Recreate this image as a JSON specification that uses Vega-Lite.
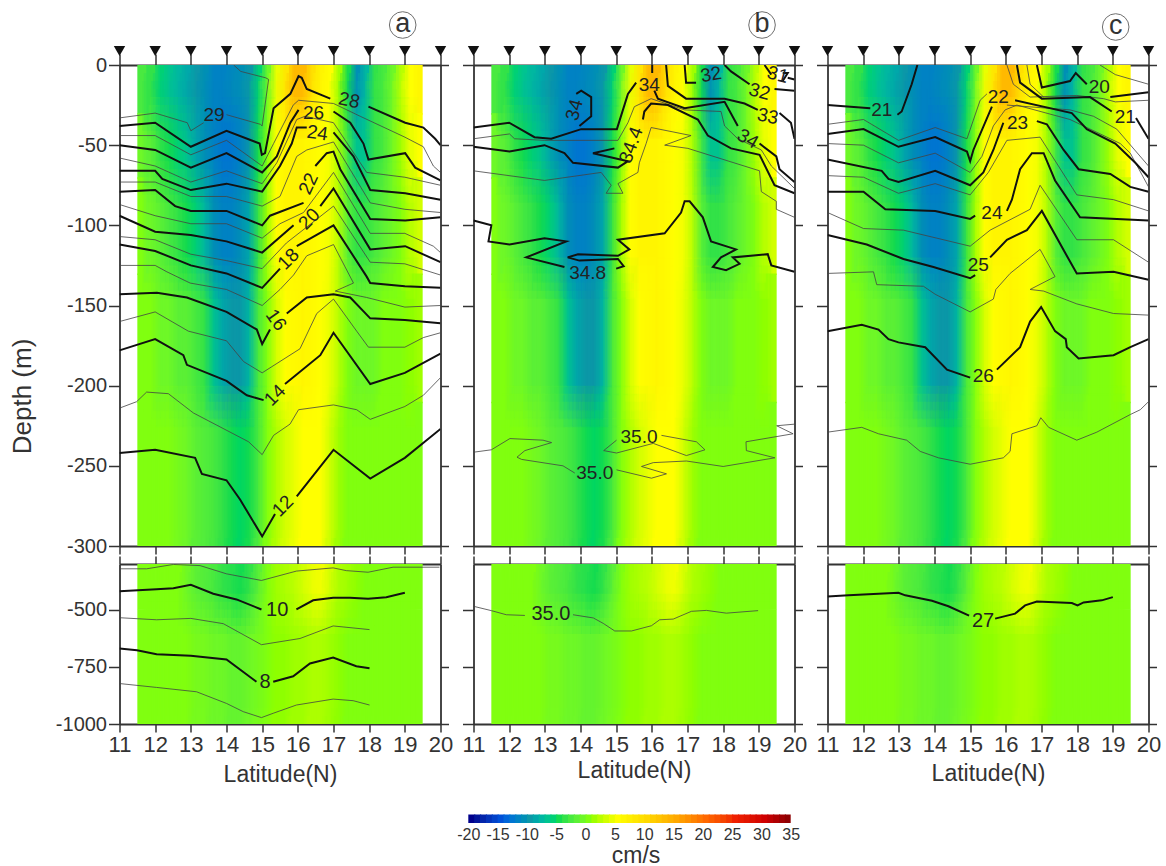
{"$schema":"https://vega.github.io/schema/vega-lite/v6.json","autosize":"none","padding":{"left":119.5,"top":65,"right":1046.5,"bottom":801},"background":"white","bounds":"flush","columns":3,"spacing":{"row":18,"column":33},
"config":{"font":"Liberation Sans","view":{"stroke":null},"axis":{"grid":false,"domainColor":"#333","tickColor":"#333","domainWidth":1.8,"tickWidth":1.5,"labelColor":"#333","titleColor":"#333","titleFontWeight":"normal","labelBound":false,"labelFlush":false,"labelOverlap":false,"zindex":1}},
"datasets":{
"st":[{"x":11,"y":0},{"x":12,"y":0},{"x":13,"y":0},{"x":14,"y":0},{"x":15,"y":0},{"x":16,"y":0},{"x":17,"y":0},{"x":18,"y":0},{"x":19,"y":0},{"x":20,"y":0}],
"velT":[
{"a":11.5,"b":11.77,"t":0,"u":-31,"v":-3},{"a":11.75,"b":12.02,"t":0,"u":-31,"v":-4},{"a":12,"b":12.27,"t":0,"u":-31,"v":-6},{"a":12.25,"b":12.52,"t":0,"u":-31,"v":-7},{"a":12.5,"b":12.77,"t":0,"u":-31,"v":-8},{"a":12.75,"b":13.02,"t":0,"u":-31,"v":-9},{"a":13,"b":13.27,"t":0,"u":-31,"v":-10},{"a":13.25,"b":13.52,"t":0,"u":-31,"v":-11},{"a":13.5,"b":13.77,"t":0,"u":-31,"v":-12},{"a":13.75,"b":14.02,"t":0,"u":-31,"v":-12},{"a":14,"b":14.27,"t":0,"u":-31,"v":-11.5},{"a":14.25,"b":14.52,"t":0,"u":-31,"v":-11},{"a":14.5,"b":14.77,"t":0,"u":-31,"v":-10},{"a":14.75,"b":15.02,"t":0,"u":-31,"v":-6},{"a":15,"b":15.27,"t":0,"u":-31,"v":-1},{"a":15.25,"b":15.52,"t":0,"u":-31,"v":4},{"a":15.5,"b":15.77,"t":0,"u":-31,"v":8},{"a":15.75,"b":16.02,"t":0,"u":-31,"v":13},{"a":16,"b":16.27,"t":0,"u":-31,"v":13},{"a":16.25,"b":16.52,"t":0,"u":-31,"v":9},{"a":16.5,"b":16.77,"t":0,"u":-31,"v":6},{"a":16.75,"b":17.02,"t":0,"u":-31,"v":5},{"a":17,"b":17.27,"t":0,"u":-31,"v":1},{"a":17.25,"b":17.52,"t":0,"u":-31,"v":-5},{"a":17.5,"b":17.77,"t":0,"u":-31,"v":-11},{"a":17.75,"b":18.02,"t":0,"u":-31,"v":-8},{"a":18,"b":18.27,"t":0,"u":-31,"v":-4},{"a":18.25,"b":18.52,"t":0,"u":-31,"v":-3},{"a":18.5,"b":18.77,"t":0,"u":-31,"v":-1},{"a":18.75,"b":19.02,"t":0,"u":-31,"v":2},{"a":19,"b":19.27,"t":0,"u":-31,"v":5},{"a":19.25,"b":19.5,"t":0,"u":-31,"v":6},
{"a":11.5,"b":11.77,"t":-30,"u":-71,"v":-1},{"a":11.75,"b":12.02,"t":-30,"u":-71,"v":-2},{"a":12,"b":12.27,"t":-30,"u":-71,"v":-4},{"a":12.25,"b":12.52,"t":-30,"u":-71,"v":-5},{"a":12.5,"b":12.77,"t":-30,"u":-71,"v":-6},{"a":12.75,"b":13.02,"t":-30,"u":-71,"v":-7},{"a":13,"b":13.27,"t":-30,"u":-71,"v":-9},{"a":13.25,"b":13.52,"t":-30,"u":-71,"v":-11},{"a":13.5,"b":13.77,"t":-30,"u":-71,"v":-12},{"a":13.75,"b":14.02,"t":-30,"u":-71,"v":-13},{"a":14,"b":14.27,"t":-30,"u":-71,"v":-13},{"a":14.25,"b":14.52,"t":-30,"u":-71,"v":-12},{"a":14.5,"b":14.77,"t":-30,"u":-71,"v":-10},{"a":14.75,"b":15.02,"t":-30,"u":-71,"v":-5},{"a":15,"b":15.27,"t":-30,"u":-71,"v":0},{"a":15.25,"b":15.52,"t":-30,"u":-71,"v":5},{"a":15.5,"b":15.77,"t":-30,"u":-71,"v":6},{"a":15.75,"b":16.02,"t":-30,"u":-71,"v":6},{"a":16,"b":16.27,"t":-30,"u":-71,"v":6},{"a":16.25,"b":16.52,"t":-30,"u":-71,"v":5.5},{"a":16.5,"b":16.77,"t":-30,"u":-71,"v":5},{"a":16.75,"b":17.02,"t":-30,"u":-71,"v":4.5},{"a":17,"b":17.27,"t":-30,"u":-71,"v":1.5},{"a":17.25,"b":17.52,"t":-30,"u":-71,"v":-3},{"a":17.5,"b":17.77,"t":-30,"u":-71,"v":-7},{"a":17.75,"b":18.02,"t":-30,"u":-71,"v":-7},{"a":18,"b":18.27,"t":-30,"u":-71,"v":-4},{"a":18.25,"b":18.52,"t":-30,"u":-71,"v":-3},{"a":18.5,"b":18.77,"t":-30,"u":-71,"v":-1},{"a":18.75,"b":19.02,"t":-30,"u":-71,"v":1},{"a":19,"b":19.27,"t":-30,"u":-71,"v":4},{"a":19.25,"b":19.5,"t":-30,"u":-71,"v":5},
{"a":11.5,"b":11.77,"t":-70,"u":-131,"v":0},{"a":11.75,"b":12.02,"t":-70,"u":-131,"v":-1},{"a":12,"b":12.27,"t":-70,"u":-131,"v":-2},{"a":12.25,"b":12.52,"t":-70,"u":-131,"v":-3},{"a":12.5,"b":12.77,"t":-70,"u":-131,"v":-4},{"a":12.75,"b":13.02,"t":-70,"u":-131,"v":-5},{"a":13,"b":13.27,"t":-70,"u":-131,"v":-6},{"a":13.25,"b":13.52,"t":-70,"u":-131,"v":-8},{"a":13.5,"b":13.77,"t":-70,"u":-131,"v":-11},{"a":13.75,"b":14.02,"t":-70,"u":-131,"v":-12},{"a":14,"b":14.27,"t":-70,"u":-131,"v":-12},{"a":14.25,"b":14.52,"t":-70,"u":-131,"v":-11},{"a":14.5,"b":14.77,"t":-70,"u":-131,"v":-9},{"a":14.75,"b":15.02,"t":-70,"u":-131,"v":-4},{"a":15,"b":15.27,"t":-70,"u":-131,"v":1},{"a":15.25,"b":15.52,"t":-70,"u":-131,"v":5},{"a":15.5,"b":15.77,"t":-70,"u":-131,"v":6},{"a":15.75,"b":16.02,"t":-70,"u":-131,"v":6},{"a":16,"b":16.27,"t":-70,"u":-131,"v":6},{"a":16.25,"b":16.52,"t":-70,"u":-131,"v":5.5},{"a":16.5,"b":16.77,"t":-70,"u":-131,"v":5},{"a":16.75,"b":17.02,"t":-70,"u":-131,"v":4.5},{"a":17,"b":17.27,"t":-70,"u":-131,"v":2},{"a":17.25,"b":17.52,"t":-70,"u":-131,"v":-2},{"a":17.5,"b":17.77,"t":-70,"u":-131,"v":-4},{"a":17.75,"b":18.02,"t":-70,"u":-131,"v":-4},{"a":18,"b":18.27,"t":-70,"u":-131,"v":-3},{"a":18.25,"b":18.52,"t":-70,"u":-131,"v":-2},{"a":18.5,"b":18.77,"t":-70,"u":-131,"v":-1},{"a":18.75,"b":19.02,"t":-70,"u":-131,"v":0},{"a":19,"b":19.27,"t":-70,"u":-131,"v":2},{"a":19.25,"b":19.5,"t":-70,"u":-131,"v":3},
{"a":11.5,"b":11.77,"t":-130,"u":-211,"v":0},{"a":11.75,"b":12.02,"t":-130,"u":-211,"v":0},{"a":12,"b":12.27,"t":-130,"u":-211,"v":-1},{"a":12.25,"b":12.52,"t":-130,"u":-211,"v":-1},{"a":12.5,"b":12.77,"t":-130,"u":-211,"v":-2},{"a":12.75,"b":13.02,"t":-130,"u":-211,"v":-2},{"a":13,"b":13.27,"t":-130,"u":-211,"v":-3},{"a":13.25,"b":13.52,"t":-130,"u":-211,"v":-4},{"a":13.5,"b":13.77,"t":-130,"u":-211,"v":-7},{"a":13.75,"b":14.02,"t":-130,"u":-211,"v":-9},{"a":14,"b":14.27,"t":-130,"u":-211,"v":-10},{"a":14.25,"b":14.52,"t":-130,"u":-211,"v":-10},{"a":14.5,"b":14.77,"t":-130,"u":-211,"v":-8},{"a":14.75,"b":15.02,"t":-130,"u":-211,"v":-3},{"a":15,"b":15.27,"t":-130,"u":-211,"v":0},{"a":15.25,"b":15.52,"t":-130,"u":-211,"v":3},{"a":15.5,"b":15.77,"t":-130,"u":-211,"v":5},{"a":15.75,"b":16.02,"t":-130,"u":-211,"v":5.5},{"a":16,"b":16.27,"t":-130,"u":-211,"v":6},{"a":16.25,"b":16.52,"t":-130,"u":-211,"v":5.5},{"a":16.5,"b":16.77,"t":-130,"u":-211,"v":5},{"a":16.75,"b":17.02,"t":-130,"u":-211,"v":4},{"a":17,"b":17.27,"t":-130,"u":-211,"v":2},{"a":17.25,"b":17.52,"t":-130,"u":-211,"v":0},{"a":17.5,"b":17.77,"t":-130,"u":-211,"v":-1},{"a":17.75,"b":18.02,"t":-130,"u":-211,"v":-1},{"a":18,"b":18.27,"t":-130,"u":-211,"v":-1},{"a":18.25,"b":18.52,"t":-130,"u":-211,"v":0},{"a":18.5,"b":18.77,"t":-130,"u":-211,"v":0},{"a":18.75,"b":19.02,"t":-130,"u":-211,"v":0},{"a":19,"b":19.27,"t":-130,"u":-211,"v":0.5},{"a":19.25,"b":19.5,"t":-130,"u":-211,"v":1},
{"a":11.5,"b":11.77,"t":-210,"u":-300,"v":0},{"a":11.75,"b":12.02,"t":-210,"u":-300,"v":0},{"a":12,"b":12.27,"t":-210,"u":-300,"v":0},{"a":12.25,"b":12.52,"t":-210,"u":-300,"v":0},{"a":12.5,"b":12.77,"t":-210,"u":-300,"v":-0.5},{"a":12.75,"b":13.02,"t":-210,"u":-300,"v":-1},{"a":13,"b":13.27,"t":-210,"u":-300,"v":-2},{"a":13.25,"b":13.52,"t":-210,"u":-300,"v":-2.5},{"a":13.5,"b":13.77,"t":-210,"u":-300,"v":-3},{"a":13.75,"b":14.02,"t":-210,"u":-300,"v":-4},{"a":14,"b":14.27,"t":-210,"u":-300,"v":-5},{"a":14.25,"b":14.52,"t":-210,"u":-300,"v":-5.5},{"a":14.5,"b":14.77,"t":-210,"u":-300,"v":-5},{"a":14.75,"b":15.02,"t":-210,"u":-300,"v":-3},{"a":15,"b":15.27,"t":-210,"u":-300,"v":0},{"a":15.25,"b":15.52,"t":-210,"u":-300,"v":1.5},{"a":15.5,"b":15.77,"t":-210,"u":-300,"v":3},{"a":15.75,"b":16.02,"t":-210,"u":-300,"v":4},{"a":16,"b":16.27,"t":-210,"u":-300,"v":5},{"a":16.25,"b":16.52,"t":-210,"u":-300,"v":5},{"a":16.5,"b":16.77,"t":-210,"u":-300,"v":5},{"a":16.75,"b":17.02,"t":-210,"u":-300,"v":3},{"a":17,"b":17.27,"t":-210,"u":-300,"v":1},{"a":17.25,"b":17.52,"t":-210,"u":-300,"v":0},{"a":17.5,"b":17.77,"t":-210,"u":-300,"v":0},{"a":17.75,"b":18.02,"t":-210,"u":-300,"v":0},{"a":18,"b":18.27,"t":-210,"u":-300,"v":0},{"a":18.25,"b":18.52,"t":-210,"u":-300,"v":0},{"a":18.5,"b":18.77,"t":-210,"u":-300,"v":0},{"a":18.75,"b":19.02,"t":-210,"u":-300,"v":0},{"a":19,"b":19.27,"t":-210,"u":-300,"v":0},{"a":19.25,"b":19.5,"t":-210,"u":-300,"v":0}],
"velB":[
{"a":11.5,"b":11.77,"t":-300,"u":-501,"v":0},{"a":11.75,"b":12.02,"t":-300,"u":-501,"v":0},{"a":12,"b":12.27,"t":-300,"u":-501,"v":0},{"a":12.25,"b":12.52,"t":-300,"u":-501,"v":0},{"a":12.5,"b":12.77,"t":-300,"u":-501,"v":0},{"a":12.75,"b":13.02,"t":-300,"u":-501,"v":-1},{"a":13,"b":13.27,"t":-300,"u":-501,"v":-2},{"a":13.25,"b":13.52,"t":-300,"u":-501,"v":-2.5},{"a":13.5,"b":13.77,"t":-300,"u":-501,"v":-3},{"a":13.75,"b":14.02,"t":-300,"u":-501,"v":-4},{"a":14,"b":14.27,"t":-300,"u":-501,"v":-4.5},{"a":14.25,"b":14.52,"t":-300,"u":-501,"v":-5},{"a":14.5,"b":14.77,"t":-300,"u":-501,"v":-4},{"a":14.75,"b":15.02,"t":-300,"u":-501,"v":-2},{"a":15,"b":15.27,"t":-300,"u":-501,"v":0},{"a":15.25,"b":15.52,"t":-300,"u":-501,"v":1},{"a":15.5,"b":15.77,"t":-300,"u":-501,"v":1.5},{"a":15.75,"b":16.02,"t":-300,"u":-501,"v":2},{"a":16,"b":16.27,"t":-300,"u":-501,"v":3},{"a":16.25,"b":16.52,"t":-300,"u":-501,"v":4},{"a":16.5,"b":16.77,"t":-300,"u":-501,"v":4.5},{"a":16.75,"b":17.02,"t":-300,"u":-501,"v":3},{"a":17,"b":17.27,"t":-300,"u":-501,"v":1.5},{"a":17.25,"b":17.52,"t":-300,"u":-501,"v":1},{"a":17.5,"b":17.77,"t":-300,"u":-501,"v":0.5},{"a":17.75,"b":18.02,"t":-300,"u":-501,"v":0},{"a":18,"b":18.27,"t":-300,"u":-501,"v":0},{"a":18.25,"b":18.52,"t":-300,"u":-501,"v":0},{"a":18.5,"b":18.77,"t":-300,"u":-501,"v":0},{"a":18.75,"b":19.02,"t":-300,"u":-501,"v":0},{"a":19,"b":19.27,"t":-300,"u":-501,"v":0},{"a":19.25,"b":19.5,"t":-300,"u":-501,"v":0},
{"a":11.5,"b":11.77,"t":-500,"u":-1000,"v":0},{"a":11.75,"b":12.02,"t":-500,"u":-1000,"v":0},{"a":12,"b":12.27,"t":-500,"u":-1000,"v":0},{"a":12.25,"b":12.52,"t":-500,"u":-1000,"v":0},{"a":12.5,"b":12.77,"t":-500,"u":-1000,"v":0},{"a":12.75,"b":13.02,"t":-500,"u":-1000,"v":0},{"a":13,"b":13.27,"t":-500,"u":-1000,"v":-0.5},{"a":13.25,"b":13.52,"t":-500,"u":-1000,"v":-0.5},{"a":13.5,"b":13.77,"t":-500,"u":-1000,"v":-1},{"a":13.75,"b":14.02,"t":-500,"u":-1000,"v":-1},{"a":14,"b":14.27,"t":-500,"u":-1000,"v":-1.5},{"a":14.25,"b":14.52,"t":-500,"u":-1000,"v":-1.5},{"a":14.5,"b":14.77,"t":-500,"u":-1000,"v":-1},{"a":14.75,"b":15.02,"t":-500,"u":-1000,"v":-0.5},{"a":15,"b":15.27,"t":-500,"u":-1000,"v":0},{"a":15.25,"b":15.52,"t":-500,"u":-1000,"v":0.5},{"a":15.5,"b":15.77,"t":-500,"u":-1000,"v":0.5},{"a":15.75,"b":16.02,"t":-500,"u":-1000,"v":1},{"a":16,"b":16.27,"t":-500,"u":-1000,"v":1},{"a":16.25,"b":16.52,"t":-500,"u":-1000,"v":1.5},{"a":16.5,"b":16.77,"t":-500,"u":-1000,"v":1.5},{"a":16.75,"b":17.02,"t":-500,"u":-1000,"v":1},{"a":17,"b":17.27,"t":-500,"u":-1000,"v":0.5},{"a":17.25,"b":17.52,"t":-500,"u":-1000,"v":0},{"a":17.5,"b":17.77,"t":-500,"u":-1000,"v":0},{"a":17.75,"b":18.02,"t":-500,"u":-1000,"v":0},{"a":18,"b":18.27,"t":-500,"u":-1000,"v":0},{"a":18.25,"b":18.52,"t":-500,"u":-1000,"v":0},{"a":18.5,"b":18.77,"t":-500,"u":-1000,"v":0},{"a":18.75,"b":19.02,"t":-500,"u":-1000,"v":0},{"a":19,"b":19.27,"t":-500,"u":-1000,"v":0},{"a":19.25,"b":19.5,"t":-500,"u":-1000,"v":0}],
"bar":[{"x":-20,"e":-18.8},{"x":-19,"e":-17.8},{"x":-18,"e":-16.8},{"x":-17,"e":-15.8},{"x":-16,"e":-14.8},{"x":-15,"e":-13.8},{"x":-14,"e":-12.8},{"x":-13,"e":-11.8},{"x":-12,"e":-10.8},{"x":-11,"e":-9.8},{"x":-10,"e":-8.8},{"x":-9,"e":-7.8},{"x":-8,"e":-6.8},{"x":-7,"e":-5.8},{"x":-6,"e":-4.8},{"x":-5,"e":-3.8},{"x":-4,"e":-2.8},{"x":-3,"e":-1.8},{"x":-2,"e":-0.8},{"x":-1,"e":0.2},{"x":0,"e":1.2},{"x":1,"e":2.2},{"x":2,"e":3.2},{"x":3,"e":4.2},{"x":4,"e":5.2},{"x":5,"e":6.2},{"x":6,"e":7.2},{"x":7,"e":8.2},{"x":8,"e":9.2},{"x":9,"e":10.2},{"x":10,"e":11.2},{"x":11,"e":12.2},{"x":12,"e":13.2},{"x":13,"e":14.2},{"x":14,"e":15.2},{"x":15,"e":16.2},{"x":16,"e":17.2},{"x":17,"e":18.2},{"x":18,"e":19.2},{"x":19,"e":20.2},{"x":20,"e":21.2},{"x":21,"e":22.2},{"x":22,"e":23.2},{"x":23,"e":24.2},{"x":24,"e":25.2},{"x":25,"e":26.2},{"x":26,"e":27.2},{"x":27,"e":28.2},{"x":28,"e":29.2},{"x":29,"e":30.2},{"x":30,"e":31.2},{"x":31,"e":32.2},{"x":32,"e":33.2},{"x":33,"e":34.2},{"x":34,"e":35}],
"a1k":[
{"c":"28a","x":11,"y":-38},{"c":"28a","x":12,"y":-36},{"c":"28a","x":13,"y":-51},{"c":"28a","x":14,"y":-41},{"c":"28a","x":14.93,"y":-49},{"c":"28a","x":14.99,"y":-56},{"c":"28a","x":15.08,"y":-55},{"c":"28a","x":15.32,"y":-27},{"c":"28a","x":15.79,"y":-18},{"c":"28a","x":16.02,"y":-7},{"c":"28a","x":16.11,"y":-8},{"c":"28a","x":16.25,"y":-15},{"c":"28a","x":16.91,"y":-21},
{"c":"28b","x":17.98,"y":-26},{"c":"28b","x":19.01,"y":-36},{"c":"28b","x":19.52,"y":-39},{"c":"28b","x":19.85,"y":-46},{"c":"28b","x":20,"y":-50},
{"c":"26a","x":11,"y":-50},{"c":"26a","x":12,"y":-53},{"c":"26a","x":13,"y":-64},{"c":"26a","x":14,"y":-55},{"c":"26a","x":15,"y":-67},{"c":"26a","x":15.41,"y":-57},{"c":"26a","x":15.5,"y":-52},{"c":"26a","x":15.79,"y":-36},{"c":"26a","x":16.02,"y":-28},
{"c":"26b","x":17,"y":-29},{"c":"26b","x":17.47,"y":-36},{"c":"26b","x":17.84,"y":-49},{"c":"26b","x":17.98,"y":-59},{"c":"26b","x":19.01,"y":-55},{"c":"26b","x":19.29,"y":-64},{"c":"26b","x":20,"y":-72},
{"c":"24a","x":11,"y":-66},{"c":"24a","x":12,"y":-66},{"c":"24a","x":12.2,"y":-71},{"c":"24a","x":13,"y":-78},{"c":"24a","x":14,"y":-74},{"c":"24a","x":15,"y":-79},{"c":"24a","x":15.5,"y":-63},{"c":"24a","x":15.83,"y":-49},{"c":"24a","x":15.97,"y":-39},{"c":"24a","x":16.25,"y":-39},
{"c":"24b","x":17,"y":-42},{"c":"24b","x":17.56,"y":-57},{"c":"24b","x":18.03,"y":-78},{"c":"24b","x":19.01,"y":-80},{"c":"24b","x":20,"y":-84},
{"c":"22a","x":11,"y":-79},{"c":"22a","x":12,"y":-78},{"c":"22a","x":12.56,"y":-88},{"c":"22a","x":13,"y":-91},{"c":"22a","x":14,"y":-91},{"c":"22a","x":15,"y":-100},{"c":"22a","x":15.22,"y":-94},{"c":"22a","x":16.16,"y":-86},
{"c":"22b","x":16.49,"y":-63},{"c":"22b","x":16.81,"y":-55},{"c":"22b","x":17,"y":-54},{"c":"22b","x":17.19,"y":-65},{"c":"22b","x":18.03,"y":-96},{"c":"22b","x":19.01,"y":-97},{"c":"22b","x":20,"y":-95},
{"c":"20a","x":11,"y":-94},{"c":"20a","x":12,"y":-104},{"c":"20a","x":13,"y":-106},{"c":"20a","x":14,"y":-110},{"c":"20a","x":15,"y":-117},{"c":"20a","x":15.88,"y":-100},
{"c":"20b","x":16.63,"y":-88},{"c":"20b","x":17,"y":-77},{"c":"20b","x":18.03,"y":-115},{"c":"20b","x":19.01,"y":-113},{"c":"20b","x":20,"y":-123},
{"c":"18a","x":11,"y":-112},{"c":"18a","x":12,"y":-116},{"c":"18a","x":13,"y":-125},{"c":"18a","x":14,"y":-130},{"c":"18a","x":15,"y":-139},{"c":"18a","x":15.5,"y":-127},
{"c":"18b","x":15.97,"y":-113},{"c":"18b","x":17,"y":-100},{"c":"18b","x":17.93,"y":-132},{"c":"18b","x":18.03,"y":-136},{"c":"18b","x":19,"y":-138},{"c":"18b","x":20,"y":-139},
{"c":"16a","x":11,"y":-143},{"c":"16a","x":12.05,"y":-142},{"c":"16a","x":12.89,"y":-145},{"c":"16a","x":14,"y":-154},{"c":"16a","x":14.85,"y":-165},{"c":"16a","x":15,"y":-174},{"c":"16a","x":15.22,"y":-165},
{"c":"16b","x":15.69,"y":-155},{"c":"16b","x":16.25,"y":-145},{"c":"16b","x":17,"y":-143},{"c":"16b","x":17.47,"y":-145},{"c":"16b","x":18.03,"y":-158},{"c":"16b","x":19,"y":-159},{"c":"16b","x":20,"y":-161},
{"c":"14a","x":11,"y":-178},{"c":"14a","x":12,"y":-171},{"c":"14a","x":12.79,"y":-181},{"c":"14a","x":12.89,"y":-187},{"c":"14a","x":14,"y":-197},{"c":"14a","x":14.57,"y":-206},{"c":"14a","x":15.04,"y":-209},
{"c":"14b","x":15.64,"y":-199},{"c":"14b","x":16.63,"y":-181},{"c":"14b","x":17,"y":-167},{"c":"14b","x":18.03,"y":-199},{"c":"14b","x":19,"y":-192},{"c":"14b","x":20,"y":-180},
{"c":"12a","x":11,"y":-242},{"c":"12a","x":12,"y":-240},{"c":"12a","x":13.12,"y":-245},{"c":"12a","x":13.31,"y":-255},{"c":"12a","x":14,"y":-259},{"c":"12a","x":14.38,"y":-271},{"c":"12a","x":15,"y":-294},{"c":"12a","x":15.36,"y":-280},
{"c":"12b","x":15.97,"y":-269},{"c":"12b","x":17,"y":-240},{"c":"12b","x":18.03,"y":-258},{"c":"12b","x":19,"y":-245},{"c":"12b","x":20,"y":-227}],
"a1t":[
{"c":"29a","x":11,"y":-33},{"c":"29a","x":12,"y":-30},{"c":"29a","x":12.9,"y":-36},{"c":"29a","x":13,"y":-41},{"c":"29a","x":13.36,"y":-36},
{"c":"29b","x":14,"y":-31},{"c":"29b","x":14.95,"y":-37},{"c":"29b","x":15,"y":-38},{"c":"29b","x":15.18,"y":-9},{"c":"29b","x":15.1,"y":-8},{"c":"29b","x":14.4,"y":-4},{"c":"29b","x":14.2,"y":0},
{"c":"27","x":11,"y":-44},{"c":"27","x":12,"y":-44},{"c":"27","x":13,"y":-56},{"c":"27","x":14,"y":-47},{"c":"27","x":15,"y":-63},{"c":"27","x":15.32,"y":-49},{"c":"27","x":15.87,"y":-25},{"c":"27","x":16.02,"y":-22},{"c":"27","x":17,"y":-24},{"c":"27","x":17.75,"y":-32},{"c":"27","x":19,"y":-45},{"c":"27","x":19.52,"y":-51},{"c":"27","x":19.8,"y":-63},{"c":"27","x":20,"y":-67},
{"c":"25","x":11,"y":-58},{"c":"25","x":12,"y":-63},{"c":"25","x":13,"y":-73},{"c":"25","x":14,"y":-66},{"c":"25","x":15,"y":-74},{"c":"25","x":15.41,"y":-61},{"c":"25","x":15.97,"y":-34},{"c":"25","x":16.2,"y":-32},{"c":"25","x":17,"y":-36},{"c":"25","x":17.93,"y":-67},{"c":"25","x":19,"y":-70},{"c":"25","x":20,"y":-75},
{"c":"23","x":11,"y":-73},{"c":"23","x":12,"y":-73},{"c":"23","x":13,"y":-82},{"c":"23","x":14,"y":-82},{"c":"23","x":15,"y":-88},{"c":"23","x":15.5,"y":-82},{"c":"23","x":15.97,"y":-57},{"c":"23","x":16.25,"y":-53},{"c":"23","x":17,"y":-48},{"c":"23","x":18.03,"y":-86},{"c":"23","x":19,"y":-90},{"c":"23","x":20,"y":-92},
{"c":"21","x":11,"y":-87},{"c":"21","x":12,"y":-94},{"c":"21","x":13,"y":-99},{"c":"21","x":14,"y":-99},{"c":"21","x":15,"y":-108},{"c":"21","x":15.5,"y":-99},{"c":"21","x":16.16,"y":-92},{"c":"21","x":17,"y":-67},{"c":"21","x":18.03,"y":-105},{"c":"21","x":19,"y":-105},{"c":"21","x":19.8,"y":-113},{"c":"21","x":20,"y":-117},
{"c":"19","x":11,"y":-107},{"c":"19","x":12,"y":-109},{"c":"19","x":13,"y":-118},{"c":"19","x":14,"y":-122},{"c":"19","x":15,"y":-127},{"c":"19","x":15.68,"y":-111},{"c":"19","x":17,"y":-88},{"c":"19","x":18.03,"y":-123},{"c":"19","x":19,"y":-124},{"c":"19","x":20,"y":-131},
{"c":"17","x":11,"y":-125},{"c":"17","x":12,"y":-125},{"c":"17","x":12.33,"y":-129},{"c":"17","x":12.98,"y":-136},{"c":"17","x":14,"y":-140},{"c":"17","x":15,"y":-150},{"c":"17","x":15.5,"y":-140},{"c":"17","x":15.88,"y":-131},{"c":"17","x":16.25,"y":-119},{"c":"17","x":17,"y":-112},{"c":"17","x":17.56,"y":-136},{"c":"17","x":17.05,"y":-141},{"c":"17","x":17.93,"y":-145},{"c":"17","x":19,"y":-151},{"c":"17","x":20,"y":-150},
{"c":"15","x":11,"y":-160},{"c":"15","x":12,"y":-154},{"c":"15","x":12.93,"y":-166},{"c":"15","x":14,"y":-172},{"c":"15","x":14.48,"y":-185},{"c":"15","x":15,"y":-192},{"c":"15","x":16.06,"y":-177},{"c":"15","x":16.53,"y":-155},{"c":"15","x":17,"y":-146},{"c":"15","x":17.65,"y":-166},{"c":"15","x":17.98,"y":-176},{"c":"15","x":19,"y":-176},{"c":"15","x":19.52,"y":-170},{"c":"15","x":20,"y":-167},
{"c":"13","x":11,"y":-214},{"c":"13","x":11.48,"y":-210},{"c":"13","x":11.76,"y":-204},{"c":"13","x":12.37,"y":-205},{"c":"13","x":13.07,"y":-217},{"c":"13","x":14.62,"y":-235},{"c":"13","x":15,"y":-243},{"c":"13","x":15.32,"y":-231},{"c":"13","x":15.78,"y":-224},{"c":"13","x":16.02,"y":-215},{"c":"13","x":17,"y":-212},{"c":"13","x":17.65,"y":-215},{"c":"13","x":18.03,"y":-221},{"c":"13","x":19,"y":-213},{"c":"13","x":19.52,"y":-206},{"c":"13","x":20,"y":-195}],
"aL":[{"t":"29","x":13.65,"y":-31,"r":0},{"t":"28","x":17.44,"y":-22,"r":12},{"t":"26","x":16.44,"y":-30,"r":0},{"t":"24","x":16.55,"y":-42.5,"r":8},{"t":"22","x":16.3,"y":-74,"r":-65},{"t":"20","x":16.32,"y":-96,"r":-45},{"t":"18","x":15.74,"y":-121,"r":-45},{"t":"16","x":15.39,"y":-159,"r":55},{"t":"14","x":15.36,"y":-206,"r":-45},{"t":"12","x":15.58,"y":-275,"r":-45}],
"a2k":[{"c":"10a","x":11,"y":-419},{"c":"10a","x":12.04,"y":-411},{"c":"10a","x":12.51,"y":-406},{"c":"10a","x":13,"y":-391},{"c":"10a","x":13.63,"y":-430},{"c":"10a","x":14.28,"y":-455},{"c":"10a","x":14.98,"y":-499},
{"c":"10b","x":15.96,"y":-499},{"c":"10b","x":16.43,"y":-459},{"c":"10b","x":16.99,"y":-448},{"c":"10b","x":17.46,"y":-448},{"c":"10b","x":17.97,"y":-452},{"c":"10b","x":18.48,"y":-445},{"c":"10b","x":19,"y":-426},
{"c":"8a","x":11,"y":-670},{"c":"8a","x":11.49,"y":-677},{"c":"8a","x":12.04,"y":-695},{"c":"8a","x":13,"y":-701},{"c":"8a","x":14,"y":-718},{"c":"8a","x":14.84,"y":-815},
{"c":"8b","x":15.31,"y":-815},{"c":"8b","x":15.87,"y":-791},{"c":"8b","x":16.34,"y":-735},{"c":"8b","x":16.99,"y":-709},{"c":"8b","x":17.64,"y":-747},{"c":"8b","x":18.01,"y":-756}],
"a2t":[{"c":"11","x":11,"y":-321},{"c":"11","x":11.76,"y":-321},{"c":"11","x":12.51,"y":-302},{"c":"11","x":13.26,"y":-307},{"c":"11","x":14,"y":-343},{"c":"11","x":14.98,"y":-372},{"c":"11","x":15.96,"y":-331},{"c":"11","x":16.99,"y":-317},{"c":"11","x":17.36,"y":-329},{"c":"11","x":17.97,"y":-336},{"c":"11","x":18.67,"y":-314},{"c":"11","x":19.97,"y":-314},
{"c":"9","x":11,"y":-535},{"c":"9","x":12.04,"y":-544},{"c":"9","x":13,"y":-538},{"c":"9","x":13.91,"y":-561},{"c":"9","x":14.98,"y":-653},{"c":"9","x":16.06,"y":-626},{"c":"9","x":16.99,"y":-571},{"c":"9","x":18.01,"y":-587},
{"c":"7","x":11,"y":-823},{"c":"7","x":12.04,"y":-840},{"c":"7","x":13.16,"y":-859},{"c":"7","x":14,"y":-910},{"c":"7","x":14.47,"y":-946},{"c":"7","x":14.98,"y":-972},{"c":"7","x":15.31,"y":-953},{"c":"7","x":15.96,"y":-917},{"c":"7","x":16.99,"y":-891},{"c":"7","x":17.55,"y":-898},{"c":"7","x":18.01,"y":-917}],
"a2L":[{"t":"10","x":15.42,"y":-503,"r":0},{"t":"8","x":15.08,"y":-815,"r":0}],
"b1k":[
{"c":"l1","x":11,"y":-39},{"c":"l1","x":12,"y":-36},{"c":"l1","x":12.71,"y":-45},{"c":"l1","x":13.18,"y":-46},{"c":"l1","x":14.02,"y":-40},{"c":"l1","x":15.02,"y":-40},{"c":"l1","x":15.33,"y":-18},{"c":"l1","x":15.56,"y":-11},
{"c":"l2","x":16.01,"y":0},{"c":"l2","x":16.01,"y":-5},
{"c":"l3","x":16.07,"y":-16},{"c":"l3","x":16.17,"y":-21},{"c":"l3","x":16.92,"y":-27},{"c":"l3","x":18.04,"y":-23},{"c":"l3","x":18.41,"y":-38},
{"c":"l4","x":19.02,"y":-49},{"c":"l4","x":19.49,"y":-57},{"c":"l4","x":19.58,"y":-65},{"c":"l4","x":20,"y":-73},
{"c":"loop","x":13.97,"y":-38},{"c":"loop","x":14.3,"y":-32},{"c":"loop","x":14.3,"y":-20},{"c":"loop","x":14.02,"y":-16},{"c":"loop","x":13.88,"y":-18},
{"c":"m1","x":11,"y":-51},{"c":"m1","x":12.01,"y":-54},{"c":"m1","x":12.99,"y":-50},{"c":"m1","x":13.55,"y":-55},{"c":"m1","x":13.79,"y":-61},{"c":"m1","x":15.05,"y":-64},{"c":"m1","x":15.33,"y":-60},{"c":"m1","x":14.35,"y":-55},{"c":"m1","x":14.95,"y":-52},
{"c":"m2","x":15.75,"y":-34},{"c":"m2","x":15.79,"y":-29},{"c":"m2","x":15.98,"y":-24},{"c":"m2","x":16.45,"y":-25},{"c":"m2","x":17.29,"y":-34},{"c":"m2","x":17.57,"y":-44},{"c":"m2","x":18.22,"y":-52},{"c":"m2","x":19.02,"y":-56},{"c":"m2","x":19.44,"y":-75},{"c":"m2","x":20,"y":-80},
{"c":"n1","x":11,"y":-97},{"c":"n1","x":11.5,"y":-100},{"c":"n1","x":11.42,"y":-110},{"c":"n1","x":12.01,"y":-112},{"c":"n1","x":12.99,"y":-108},{"c":"n1","x":13.6,"y":-110},{"c":"n1","x":12.48,"y":-120},{"c":"n1","x":13.55,"y":-126},
{"c":"n2","x":13.64,"y":-120},{"c":"n2","x":13.93,"y":-118},{"c":"n2","x":15.05,"y":-119},{"c":"n2","x":15.37,"y":-115},{"c":"n2","x":15.05,"y":-109},{"c":"n2","x":16.36,"y":-105},{"c":"n2","x":16.82,"y":-92},{"c":"n2","x":16.92,"y":-85},{"c":"n2","x":17.06,"y":-85},{"c":"n2","x":17.43,"y":-95},{"c":"n2","x":17.66,"y":-110},{"c":"n2","x":18.36,"y":-115},{"c":"n2","x":17.94,"y":-120},{"c":"n2","x":17.71,"y":-126},{"c":"n2","x":18.08,"y":-128},{"c":"n2","x":18.46,"y":-124},{"c":"n2","x":18.27,"y":-120},{"c":"n2","x":19.25,"y":-118},{"c":"n2","x":19.35,"y":-125},{"c":"n2","x":20,"y":-129},
{"c":"n3","x":13.64,"y":-120},{"c":"n3","x":13.97,"y":-122},{"c":"n3","x":15.05,"y":-121},{"c":"n3","x":15.21,"y":-125.5},{"c":"n3","x":15,"y":-127},
{"c":"p1","x":16.92,"y":0},{"c":"p1","x":16.96,"y":-11},{"c":"p1","x":17.24,"y":-11},
{"c":"p2","x":18.04,"y":0},{"c":"p2","x":18.22,"y":-4},{"c":"p2","x":18.74,"y":-12},
{"c":"p3","x":16.4,"y":0},{"c":"p3","x":16.45,"y":-13},{"c":"p3","x":16.96,"y":-21},{"c":"p3","x":18.04,"y":-21},{"c":"p3","x":18.6,"y":-24},{"c":"p3","x":18.97,"y":-28},
{"c":"p4","x":19.58,"y":-30},{"c":"p4","x":19.9,"y":-36},{"c":"p4","x":20,"y":-46},
{"c":"p5","x":19.44,"y":-15},{"c":"p5","x":20,"y":-16},
{"c":"p6","x":19.16,"y":0},{"c":"p6","x":19.35,"y":-6},
{"c":"p7","x":19.67,"y":-5},{"c":"p7","x":19.81,"y":-5},{"c":"p7","x":19.67,"y":-10},
{"c":"p8","x":19.81,"y":-8},{"c":"p8","x":20,"y":-9}],
"b1t":[
{"c":"u","x":11,"y":-46},{"c":"u","x":12.01,"y":-43},{"c":"u","x":12.15,"y":-46},{"c":"u","x":12.99,"y":-47},{"c":"u","x":15.05,"y":-47},{"c":"u","x":15.33,"y":-36},{"c":"u","x":15.51,"y":-26},{"c":"u","x":15.98,"y":-21},{"c":"u","x":16.92,"y":-28},{"c":"u","x":17.94,"y":-29},{"c":"u","x":18.04,"y":-38},{"c":"u","x":18.41,"y":-46},{"c":"u","x":19.07,"y":-53},{"c":"u","x":19.35,"y":-63},{"c":"u","x":20,"y":-77},
{"c":"v","x":11,"y":-66},{"c":"v","x":12.99,"y":-72},{"c":"v","x":14.58,"y":-67},{"c":"v","x":14.86,"y":-75},{"c":"v","x":14.72,"y":-80},{"c":"v","x":15.19,"y":-80},{"c":"v","x":15.05,"y":-74},{"c":"v","x":15.61,"y":-67},{"c":"v","x":15.65,"y":-61},{"c":"v","x":15.84,"y":-49},{"c":"v","x":15.98,"y":-39},{"c":"v","x":17.1,"y":-44},{"c":"v","x":16.36,"y":-50},{"c":"v","x":17.01,"y":-52},{"c":"v","x":19.02,"y":-66},{"c":"v","x":19.07,"y":-79},{"c":"v","x":19.49,"y":-85},{"c":"v","x":19.49,"y":-90},{"c":"v","x":20,"y":-95},
{"c":"w","x":11,"y":-241.5},{"c":"w","x":11.5,"y":-240},{"c":"w","x":12.02,"y":-233},{"c":"w","x":12.95,"y":-234},{"c":"w","x":13.19,"y":-235.5},{"c":"w","x":12.44,"y":-240.5},{"c":"w","x":12.22,"y":-244.6},{"c":"w","x":12.35,"y":-246},{"c":"w","x":13.51,"y":-250},{"c":"w","x":13.84,"y":-254.5},
{"c":"x","x":15.01,"y":-252.5},{"c":"x","x":15.99,"y":-257.7},{"c":"x","x":16.41,"y":-255},{"c":"x","x":15.71,"y":-250.4},{"c":"x","x":16.04,"y":-248},{"c":"x","x":16.97,"y":-247},{"c":"x","x":18,"y":-250.4},{"c":"x","x":19.45,"y":-245},{"c":"x","x":18.65,"y":-240.5},{"c":"x","x":18.64,"y":-235},{"c":"x","x":19.96,"y":-230},{"c":"x","x":19.5,"y":-225},{"c":"x","x":20,"y":-224},
{"c":"y","x":15.01,"y":-234},{"c":"y","x":14.65,"y":-240.5},{"c":"y","x":15.01,"y":-242},{"c":"y","x":16.04,"y":-236},{"c":"y","x":16.97,"y":-243.6},{"c":"y","x":17.49,"y":-240},{"c":"y","x":17.25,"y":-235},{"c":"y","x":16.27,"y":-231}],
"bL":[{"t":"34","x":13.83,"y":-28,"r":-75},{"t":"34","x":15.93,"y":-12.5,"r":0},{"t":"32","x":17.66,"y":-6,"r":-10},{"t":"32","x":19.02,"y":-16.6,"r":15},{"t":"31","x":19.53,"y":-6,"r":15},{"t":"33","x":19.25,"y":-32,"r":12},{"t":"34","x":18.69,"y":-46,"r":30},{"t":"34.4","x":15.42,"y":-50,"r":-70},{"t":"34.8","x":14.2,"y":-130,"r":0},{"t":"35.0","x":15.64,"y":-232,"r":0},{"t":"35.0","x":14.4,"y":-254.5,"r":0}],
"b2t":[{"c":"a","x":11,"y":-485},{"c":"a","x":11.5,"y":-504},{"c":"a","x":11.92,"y":-522},{"c":"a","x":12.44,"y":-525},
{"c":"b","x":13.79,"y":-522},{"c":"b","x":14.36,"y":-536},{"c":"b","x":14.64,"y":-560},{"c":"b","x":14.96,"y":-593},{"c":"b","x":15.43,"y":-593},{"c":"b","x":15.99,"y":-570},{"c":"b","x":16.22,"y":-544},{"c":"b","x":16.6,"y":-541},{"c":"b","x":17.11,"y":-507},{"c":"b","x":17.53,"y":-503},{"c":"b","x":18.09,"y":-515},{"c":"b","x":18.98,"y":-504}],
"b2L":[{"t":"35.0","x":13.17,"y":-519,"r":0}],
"c1k":[
{"c":"21a","x":11,"y":-25},{"c":"21a","x":12.2,"y":-27},
{"c":"21b","x":12.96,"y":-31},{"c":"21b","x":13.08,"y":-29},{"c":"21b","x":13.36,"y":-12},{"c":"21b","x":13.52,"y":0},
{"c":"21c","x":16.31,"y":0},{"c":"21c","x":16.4,"y":-11},{"c":"21c","x":17.01,"y":-21},{"c":"21c","x":18.36,"y":-20},{"c":"21c","x":18.97,"y":-29},
{"c":"21d","x":19.65,"y":-33},{"c":"21d","x":20,"y":-46},
{"c":"20a","x":16.87,"y":0},{"c":"20a","x":17.01,"y":-14},{"c":"20a","x":17.8,"y":-10},{"c":"20a","x":17.96,"y":-5},{"c":"20a","x":18.27,"y":-12},
{"c":"20b","x":18.93,"y":-20},{"c":"20b","x":20,"y":-17},
{"c":"22a","x":11,"y":-43},{"c":"22a","x":12.01,"y":-40},{"c":"22a","x":12.99,"y":-51},{"c":"22a","x":14.02,"y":-45},{"c":"22a","x":14.91,"y":-54},{"c":"22a","x":15,"y":-60},{"c":"22a","x":15.09,"y":-53},{"c":"22a","x":15.61,"y":-26},
{"c":"22b","x":16.26,"y":-22},{"c":"22b","x":17.85,"y":-30},{"c":"22b","x":18.27,"y":-40},{"c":"22b","x":19.07,"y":-49},{"c":"22b","x":19.63,"y":-61},{"c":"22b","x":20,"y":-70},
{"c":"23a","x":11,"y":-59},{"c":"23a","x":12.52,"y":-66},{"c":"23a","x":12.71,"y":-71},{"c":"23a","x":12.99,"y":-73},{"c":"23a","x":14.02,"y":-66},{"c":"23a","x":15,"y":-75},{"c":"23a","x":15.37,"y":-67},{"c":"23a","x":15.65,"y":-53},{"c":"23a","x":15.93,"y":-36},
{"c":"23b","x":16.87,"y":-35},{"c":"23b","x":17.15,"y":-37},{"c":"23b","x":17.62,"y":-53},{"c":"23b","x":18.04,"y":-65},{"c":"23b","x":18.93,"y":-68},{"c":"23b","x":19.49,"y":-76},{"c":"23b","x":20,"y":-79},
{"c":"24a","x":11,"y":-79},{"c":"24a","x":12.01,"y":-79},{"c":"24a","x":12.62,"y":-90},{"c":"24a","x":14.02,"y":-91},{"c":"24a","x":15,"y":-96},{"c":"24a","x":15.14,"y":-94},
{"c":"24b","x":16.03,"y":-91},{"c":"24b","x":16.17,"y":-84},{"c":"24b","x":16.4,"y":-65},{"c":"24b","x":16.73,"y":-55},{"c":"24b","x":17.06,"y":-55},{"c":"24b","x":17.38,"y":-72},{"c":"24b","x":18.08,"y":-95},{"c":"24b","x":20,"y":-97},
{"c":"25a","x":11,"y":-106},{"c":"25a","x":12.1,"y":-112},{"c":"25a","x":13.13,"y":-121},{"c":"25a","x":13.97,"y":-126},{"c":"25a","x":15,"y":-133},{"c":"25a","x":15.14,"y":-131},
{"c":"25b","x":15.56,"y":-120},{"c":"25b","x":16.03,"y":-109},{"c":"25b","x":16.59,"y":-103},{"c":"25b","x":17.01,"y":-91},{"c":"25b","x":17.76,"y":-121},{"c":"25b","x":17.99,"y":-130},{"c":"25b","x":19.02,"y":-129},{"c":"25b","x":20,"y":-134},
{"c":"26a","x":11,"y":-166},{"c":"26a","x":11.96,"y":-162},{"c":"26a","x":12.43,"y":-165},{"c":"26a","x":12.71,"y":-171},{"c":"26a","x":12.99,"y":-173},{"c":"26a","x":13.74,"y":-176},{"c":"26a","x":14.35,"y":-190},{"c":"26a","x":15,"y":-195},
{"c":"26b","x":15.75,"y":-190},{"c":"26b","x":16.4,"y":-176},{"c":"26b","x":16.68,"y":-160},{"c":"26b","x":16.99,"y":-151},{"c":"26b","x":17.38,"y":-166},{"c":"26b","x":17.68,"y":-171},{"c":"26b","x":17.71,"y":-176},{"c":"26b","x":18.04,"y":-183},{"c":"26b","x":19.02,"y":-181},{"c":"26b","x":19.49,"y":-176},{"c":"26b","x":20,"y":-171}],
"c1t":[
{"c":"t1","x":16.03,"y":0},{"c":"t1","x":16.21,"y":-12},{"c":"t1","x":16.68,"y":-20},{"c":"t1","x":17.99,"y":-19},{"c":"t1","x":18.74,"y":-21},{"c":"t1","x":19.07,"y":-23},{"c":"t1","x":20,"y":-22},
{"c":"t2","x":16.59,"y":0},{"c":"t2","x":16.68,"y":-12},{"c":"t2","x":17.06,"y":-20},
{"c":"t3","x":18.64,"y":0},{"c":"t3","x":19.07,"y":-6},{"c":"t3","x":20,"y":-12},
{"c":"t4","x":11,"y":-37},{"c":"t4","x":12.01,"y":-34},{"c":"t4","x":12.99,"y":-47},{"c":"t4","x":14.02,"y":-39},{"c":"t4","x":14.91,"y":-46},{"c":"t4","x":15.28,"y":-22},{"c":"t4","x":15.47,"y":-18},
{"c":"t5","x":16.03,"y":-25},{"c":"t5","x":17.8,"y":-28},{"c":"t5","x":18.46,"y":-32},{"c":"t5","x":19.11,"y":-40},{"c":"t5","x":20,"y":-63},
{"c":"t6","x":11,"y":-49},{"c":"t6","x":12.01,"y":-50},{"c":"t6","x":12.99,"y":-61},{"c":"t6","x":14.02,"y":-55},{"c":"t6","x":15,"y":-67},{"c":"t6","x":15.33,"y":-57},{"c":"t6","x":15.65,"y":-38},{"c":"t6","x":15.98,"y":-28},{"c":"t6","x":16.31,"y":-25},{"c":"t6","x":17.8,"y":-34},{"c":"t6","x":19.21,"y":-49},{"c":"t6","x":19.49,"y":-55},{"c":"t6","x":20,"y":-76},
{"c":"t7","x":11,"y":-69},{"c":"t7","x":12.01,"y":-70},{"c":"t7","x":12.99,"y":-80},{"c":"t7","x":14.02,"y":-74},{"c":"t7","x":15,"y":-81},{"c":"t7","x":15.51,"y":-67},{"c":"t7","x":16.03,"y":-47},{"c":"t7","x":16.96,"y":-45},{"c":"t7","x":17.99,"y":-81},{"c":"t7","x":19.02,"y":-84},{"c":"t7","x":20,"y":-91},
{"c":"t8","x":11,"y":-92},{"c":"t8","x":12.01,"y":-102},{"c":"t8","x":13.13,"y":-103},{"c":"t8","x":15,"y":-113},{"c":"t8","x":15.56,"y":-103},{"c":"t8","x":16.68,"y":-90},{"c":"t8","x":16.96,"y":-75},{"c":"t8","x":17.99,"y":-109},{"c":"t8","x":19.02,"y":-109},{"c":"t8","x":20,"y":-123},
{"c":"t9","x":11,"y":-130},{"c":"t9","x":12.29,"y":-129},{"c":"t9","x":12.38,"y":-137},{"c":"t9","x":13.69,"y":-138},{"c":"t9","x":14.02,"y":-143},{"c":"t9","x":15,"y":-154},{"c":"t9","x":15.65,"y":-146},{"c":"t9","x":15.72,"y":-140},{"c":"t9","x":16.12,"y":-130},{"c":"t9","x":16.96,"y":-115},{"c":"t9","x":17.38,"y":-132},{"c":"t9","x":16.68,"y":-140},{"c":"t9","x":17.06,"y":-141},{"c":"t9","x":17.99,"y":-149},{"c":"t9","x":19.02,"y":-155},{"c":"t9","x":20,"y":-156},
{"c":"t10","x":11,"y":-229},{"c":"t10","x":11.96,"y":-226},{"c":"t10","x":12.43,"y":-230},{"c":"t10","x":13.22,"y":-234},{"c":"t10","x":13.6,"y":-241},{"c":"t10","x":14.11,"y":-245},{"c":"t10","x":15,"y":-249},{"c":"t10","x":15.93,"y":-245},{"c":"t10","x":16.12,"y":-241},{"c":"t10","x":16.17,"y":-230},{"c":"t10","x":16.87,"y":-225},{"c":"t10","x":16.98,"y":-220},{"c":"t10","x":17.2,"y":-226},{"c":"t10","x":17.99,"y":-234},{"c":"t10","x":18.55,"y":-229},{"c":"t10","x":19.49,"y":-218},{"c":"t10","x":19.77,"y":-215},{"c":"t10","x":20,"y":-210}],
"cL":[{"t":"21","x":12.52,"y":-28,"r":0},{"t":"22","x":15.79,"y":-20,"r":0},{"t":"20","x":18.62,"y":-14,"r":0},{"t":"21","x":19.35,"y":-32.6,"r":0},{"t":"23","x":16.33,"y":-36,"r":0},{"t":"24","x":15.61,"y":-92,"r":0},{"t":"25","x":15.23,"y":-125,"r":0},{"t":"26","x":15.37,"y":-194,"r":0}],
"c2k":[{"c":"a","x":11,"y":-442},{"c":"a","x":11.59,"y":-437},{"c":"a","x":12.99,"y":-426},{"c":"a","x":13.18,"y":-437},{"c":"a","x":13.93,"y":-461},{"c":"a","x":14.39,"y":-485},{"c":"a","x":14.97,"y":-526},
{"c":"b","x":15.7,"y":-539},{"c":"b","x":16.26,"y":-517},{"c":"b","x":16.54,"y":-481},{"c":"b","x":16.87,"y":-464},{"c":"b","x":17.85,"y":-471},{"c":"b","x":18.01,"y":-481},{"c":"b","x":18.18,"y":-468},{"c":"b","x":18.69,"y":-459},{"c":"b","x":19,"y":-445}],
"c2L":[{"t":"27","x":15.36,"y":-551,"r":0}],
"none":[]
},
"concat":[
{"width":321,"height":481,"encoding":{"x":{"field":"x","type":"quantitative","scale":{"domain":[11,20]},"axis":null},"y":{"field":"y","type":"quantitative","scale":{"domain":[-300,0]},"axis":null}},
"layer":[
{"data":{"name":"velT"},"encoding":{"x":{"field":"a","type":"quantitative","scale":{"domain":[11,20]},"axis":{"orient":"bottom","values":[11,12,13,14,15,16,17,18,19,20],"labels":false,"tickSize":8,"title":null}},"x2":{"field":"b"},"y":{"field":"t","type":"quantitative","scale":{"domain":[-300,0]},"axis":{"orient":"left","values":[0,-50,-100,-150,-200,-250,-300],"tickSize":11,"labelFontSize":20,"labelPadding":2,"labelExpr":"''+datum.value","title":"Depth (m)","titleFontSize":26,"titleX":-97,"titleY":331,"titleAlign":"center","titleBaseline":"middle"}},"y2":{"field":"u"},"color":{"field":"v","type":"quantitative","legend":null,"scale":{"domain":[-20,-15,-10,-5,0,5,10,15,20,25,30,35],"range":["#00008c","#0050d8","#0c98a8","#14dc50","#80ff10","#ffff00","#ffd800","#ffa800","#ff6800","#f02000","#d00000","#800000"]}}},
"layer":[{"mark":"rect"},
{"transform":[{"filter":"datum.a>11.5&&datum.a<19.25"}],"mark":{"type":"rect","clip":true,"opacity":0.5,"xOffset":-2.4,"x2Offset":-2.4,"yOffset":8,"y2Offset":8}},
{"transform":[{"filter":"datum.a>11.5&&datum.a<19.25"}],"mark":{"type":"rect","clip":true,"opacity":0.333,"xOffset":2.4,"x2Offset":2.4,"yOffset":-8,"y2Offset":-8}},
{"transform":[{"filter":"datum.a>11.5&&datum.a<19.25"}],"mark":{"type":"rect","clip":true,"opacity":0.25,"xOffset":-4,"x2Offset":-4,"yOffset":16,"y2Offset":16}},
{"transform":[{"filter":"datum.a>11.5&&datum.a<19.25"}],"mark":{"type":"rect","clip":true,"opacity":0.2,"xOffset":4,"x2Offset":4,"yOffset":-16,"y2Offset":-16}},
{"transform":[{"filter":"datum.a>11.5&&datum.a<19.25"}],"mark":{"type":"rect","clip":true,"opacity":0.167,"xOffset":0.8,"x2Offset":0.8,"yOffset":24,"y2Offset":24}}]},
{"data":{"name":"a1t"},"mark":{"type":"line","stroke":"#444","strokeWidth":1,"opacity":0.8,"clip":true},"encoding":{"detail":{"field":"c"},"order":{"value":null}}},
{"data":{"name":"a1k"},"mark":{"type":"line","stroke":"#111","strokeWidth":2,"clip":true},"encoding":{"detail":{"field":"c"},"order":{"value":null}}},
{"data":{"name":"aL"},"mark":{"type":"text","fontSize":19,"fill":"#222"},"encoding":{"text":{"field":"t"},"angle":{"field":"r","type":"quantitative","scale":null}}},
{"data":{"values":[{"x":18.94,"y":0}]},"mark":{"type":"point","shape":"circle","size":707,"filled":false,"stroke":"#333","strokeWidth":1,"yOffset":-40}},
{"data":{"values":[{"x":18.94,"y":0,"t":"a"}]},"mark":{"type":"text","fontSize":27,"fill":"#333","dy":-41},"encoding":{"text":{"field":"t"}}},
{"data":{"name":"st"},"mark":{"type":"point","shape":"triangle-down","size":130,"filled":true,"fill":"#111","opacity":1,"yOffset":-14},"encoding":{"x":{"field":"x","type":"quantitative","scale":{"domain":[11,20]},"axis":{"orient":"top","values":[11,12,13,14,15,16,17,18,19,20],"labels":false,"tickSize":11,"title":null}},"y":{"field":"y","type":"quantitative","scale":{"domain":[-300,0]},"axis":{"orient":"right","values":[0,-50,-100,-150,-200,-250,-300],"labels":false,"tickSize":8,"title":null}}}}
],"resolve":{"axis":{"x":"independent","y":"independent"}}},
{"width":321,"height":481,"encoding":{"x":{"field":"x","type":"quantitative","scale":{"domain":[11,20]},"axis":null},"y":{"field":"y","type":"quantitative","scale":{"domain":[-300,0]},"axis":null}},
"layer":[
{"data":{"name":"velT"},"encoding":{"x":{"field":"a","type":"quantitative","scale":{"domain":[11,20]},"axis":{"orient":"bottom","values":[11,12,13,14,15,16,17,18,19,20],"labels":false,"tickSize":8,"title":null}},"x2":{"field":"b"},"y":{"field":"t","type":"quantitative","scale":{"domain":[-300,0]},"axis":{"orient":"left","values":[0,-50,-100,-150,-200,-250,-300],"tickSize":11,"labels":false,"title":null}},"y2":{"field":"u"},"color":{"field":"v","type":"quantitative","legend":null,"scale":{"domain":[-20,-15,-10,-5,0,5,10,15,20,25,30,35],"range":["#00008c","#0050d8","#0c98a8","#14dc50","#80ff10","#ffff00","#ffd800","#ffa800","#ff6800","#f02000","#d00000","#800000"]}}},
"layer":[{"mark":"rect"},
{"transform":[{"filter":"datum.a>11.5&&datum.a<19.25"}],"mark":{"type":"rect","clip":true,"opacity":0.5,"xOffset":-2.4,"x2Offset":-2.4,"yOffset":8,"y2Offset":8}},
{"transform":[{"filter":"datum.a>11.5&&datum.a<19.25"}],"mark":{"type":"rect","clip":true,"opacity":0.333,"xOffset":2.4,"x2Offset":2.4,"yOffset":-8,"y2Offset":-8}},
{"transform":[{"filter":"datum.a>11.5&&datum.a<19.25"}],"mark":{"type":"rect","clip":true,"opacity":0.25,"xOffset":-4,"x2Offset":-4,"yOffset":16,"y2Offset":16}},
{"transform":[{"filter":"datum.a>11.5&&datum.a<19.25"}],"mark":{"type":"rect","clip":true,"opacity":0.2,"xOffset":4,"x2Offset":4,"yOffset":-16,"y2Offset":-16}},
{"transform":[{"filter":"datum.a>11.5&&datum.a<19.25"}],"mark":{"type":"rect","clip":true,"opacity":0.167,"xOffset":0.8,"x2Offset":0.8,"yOffset":24,"y2Offset":24}}]},
{"data":{"name":"b1t"},"mark":{"type":"line","stroke":"#444","strokeWidth":1,"opacity":0.8,"clip":true},"encoding":{"detail":{"field":"c"},"order":{"value":null}}},
{"data":{"name":"b1k"},"mark":{"type":"line","stroke":"#111","strokeWidth":2,"clip":true},"encoding":{"detail":{"field":"c"},"order":{"value":null}}},
{"data":{"name":"bL"},"mark":{"type":"text","fontSize":19,"fill":"#222"},"encoding":{"text":{"field":"t"},"angle":{"field":"r","type":"quantitative","scale":null}}},
{"data":{"values":[{"x":19.09,"y":0}]},"mark":{"type":"point","shape":"circle","size":707,"filled":false,"stroke":"#333","strokeWidth":1,"yOffset":-40}},
{"data":{"values":[{"x":19.09,"y":0,"t":"b"}]},"mark":{"type":"text","fontSize":27,"fill":"#333","dy":-41},"encoding":{"text":{"field":"t"}}},
{"data":{"name":"st"},"mark":{"type":"point","shape":"triangle-down","size":130,"filled":true,"fill":"#111","opacity":1,"yOffset":-14},"encoding":{"x":{"field":"x","type":"quantitative","scale":{"domain":[11,20]},"axis":{"orient":"top","values":[11,12,13,14,15,16,17,18,19,20],"labels":false,"tickSize":11,"title":null}},"y":{"field":"y","type":"quantitative","scale":{"domain":[-300,0]},"axis":{"orient":"right","values":[0,-50,-100,-150,-200,-250,-300],"labels":false,"tickSize":8,"title":null}}}}
],"resolve":{"axis":{"x":"independent","y":"independent"}}},
{"width":321,"height":481,"encoding":{"x":{"field":"x","type":"quantitative","scale":{"domain":[11,20]},"axis":null},"y":{"field":"y","type":"quantitative","scale":{"domain":[-300,0]},"axis":null}},
"layer":[
{"data":{"name":"velT"},"encoding":{"x":{"field":"a","type":"quantitative","scale":{"domain":[11,20]},"axis":{"orient":"bottom","values":[11,12,13,14,15,16,17,18,19,20],"labels":false,"tickSize":8,"title":null}},"x2":{"field":"b"},"y":{"field":"t","type":"quantitative","scale":{"domain":[-300,0]},"axis":{"orient":"left","values":[0,-50,-100,-150,-200,-250,-300],"tickSize":11,"labels":false,"title":null}},"y2":{"field":"u"},"color":{"field":"v","type":"quantitative","legend":null,"scale":{"domain":[-20,-15,-10,-5,0,5,10,15,20,25,30,35],"range":["#00008c","#0050d8","#0c98a8","#14dc50","#80ff10","#ffff00","#ffd800","#ffa800","#ff6800","#f02000","#d00000","#800000"]}}},
"layer":[{"mark":"rect"},
{"transform":[{"filter":"datum.a>11.5&&datum.a<19.25"}],"mark":{"type":"rect","clip":true,"opacity":0.5,"xOffset":-2.4,"x2Offset":-2.4,"yOffset":8,"y2Offset":8}},
{"transform":[{"filter":"datum.a>11.5&&datum.a<19.25"}],"mark":{"type":"rect","clip":true,"opacity":0.333,"xOffset":2.4,"x2Offset":2.4,"yOffset":-8,"y2Offset":-8}},
{"transform":[{"filter":"datum.a>11.5&&datum.a<19.25"}],"mark":{"type":"rect","clip":true,"opacity":0.25,"xOffset":-4,"x2Offset":-4,"yOffset":16,"y2Offset":16}},
{"transform":[{"filter":"datum.a>11.5&&datum.a<19.25"}],"mark":{"type":"rect","clip":true,"opacity":0.2,"xOffset":4,"x2Offset":4,"yOffset":-16,"y2Offset":-16}},
{"transform":[{"filter":"datum.a>11.5&&datum.a<19.25"}],"mark":{"type":"rect","clip":true,"opacity":0.167,"xOffset":0.8,"x2Offset":0.8,"yOffset":24,"y2Offset":24}}]},
{"data":{"name":"c1t"},"mark":{"type":"line","stroke":"#444","strokeWidth":1,"opacity":0.8,"clip":true},"encoding":{"detail":{"field":"c"},"order":{"value":null}}},
{"data":{"name":"c1k"},"mark":{"type":"line","stroke":"#111","strokeWidth":2,"clip":true},"encoding":{"detail":{"field":"c"},"order":{"value":null}}},
{"data":{"name":"cL"},"mark":{"type":"text","fontSize":19,"fill":"#222"},"encoding":{"text":{"field":"t"},"angle":{"field":"r","type":"quantitative","scale":null}}},
{"data":{"values":[{"x":19.08,"y":0}]},"mark":{"type":"point","shape":"circle","size":707,"filled":false,"stroke":"#333","strokeWidth":1,"yOffset":-38}},
{"data":{"values":[{"x":19.08,"y":0,"t":"c"}]},"mark":{"type":"text","fontSize":27,"fill":"#333","dy":-39},"encoding":{"text":{"field":"t"}}},
{"data":{"name":"st"},"mark":{"type":"point","shape":"triangle-down","size":130,"filled":true,"fill":"#111","opacity":1,"yOffset":-14},"encoding":{"x":{"field":"x","type":"quantitative","scale":{"domain":[11,20]},"axis":{"orient":"top","values":[11,12,13,14,15,16,17,18,19,20],"labels":false,"tickSize":11,"title":null}},"y":{"field":"y","type":"quantitative","scale":{"domain":[-300,0]},"axis":{"orient":"right","values":[0,-50,-100,-150,-200,-250,-300],"labels":false,"tickSize":8,"title":null}}}}
],"resolve":{"axis":{"x":"independent","y":"independent"}}},
{"width":321,"height":160,"encoding":{"x":{"field":"x","type":"quantitative","scale":{"domain":[11,20]},"axis":null},"y":{"field":"y","type":"quantitative","scale":{"domain":[-1000,-300]},"axis":null}},
"layer":[
{"data":{"name":"velB"},"encoding":{"x":{"field":"a","type":"quantitative","scale":{"domain":[11,20]},"axis":{"orient":"bottom","values":[11,12,13,14,15,16,17,18,19,20],"tickSize":8,"labelFontSize":22,"labelPadding":2,"title":"Latitude(N)","titleFontSize":23,"titlePadding":8}},"x2":{"field":"b"},"y":{"field":"t","type":"quantitative","scale":{"domain":[-1000,-300]},"axis":{"orient":"left","values":[-500,-750,-1000],"tickSize":11,"labelFontSize":20,"labelPadding":2,"labelExpr":"''+datum.value","title":null}},"y2":{"field":"u"},"color":{"field":"v","type":"quantitative","legend":null,"scale":{"domain":[-20,-15,-10,-5,0,5,10,15,20,25,30,35],"range":["#00008c","#0050d8","#0c98a8","#14dc50","#80ff10","#ffff00","#ffd800","#ffa800","#ff6800","#f02000","#d00000","#800000"]}}},
"layer":[{"mark":"rect"},
{"transform":[{"filter":"datum.a>11.5&&datum.a<19.25"}],"mark":{"type":"rect","clip":true,"opacity":0.5,"xOffset":-2.4,"x2Offset":-2.4,"yOffset":8,"y2Offset":8}},
{"transform":[{"filter":"datum.a>11.5&&datum.a<19.25"}],"mark":{"type":"rect","clip":true,"opacity":0.333,"xOffset":2.4,"x2Offset":2.4,"yOffset":-8,"y2Offset":-8}},
{"transform":[{"filter":"datum.a>11.5&&datum.a<19.25"}],"mark":{"type":"rect","clip":true,"opacity":0.25,"xOffset":-4,"x2Offset":-4,"yOffset":16,"y2Offset":16}},
{"transform":[{"filter":"datum.a>11.5&&datum.a<19.25"}],"mark":{"type":"rect","clip":true,"opacity":0.2,"xOffset":4,"x2Offset":4,"yOffset":-16,"y2Offset":-16}},
{"transform":[{"filter":"datum.a>11.5&&datum.a<19.25"}],"mark":{"type":"rect","clip":true,"opacity":0.167,"xOffset":0.8,"x2Offset":0.8,"yOffset":24,"y2Offset":24}}]},
{"data":{"name":"a2t"},"mark":{"type":"line","stroke":"#444","strokeWidth":1,"opacity":0.8,"clip":true},"encoding":{"x":{"field":"x","type":"quantitative","scale":{"domain":[11,20]},"axis":{"orient":"top","values":[11,12,13,14,15,16,17,18,19,20],"labels":false,"tickSize":8,"title":null}},"y":{"field":"y","type":"quantitative","scale":{"domain":[-1000,-300]},"axis":{"orient":"right","values":[-500,-750,-1000],"labels":false,"tickSize":8,"title":null}},"detail":{"field":"c"},"order":{"value":null}}},
{"data":{"name":"a2k"},"mark":{"type":"line","stroke":"#111","strokeWidth":2,"clip":true},"encoding":{"detail":{"field":"c"},"order":{"value":null}}},
{"data":{"name":"a2L"},"mark":{"type":"text","fontSize":20,"fill":"#222"},"encoding":{"text":{"field":"t"},"angle":{"field":"r","type":"quantitative","scale":null}}}
],"resolve":{"axis":{"x":"independent","y":"independent"}}},
{"width":321,"height":160,"encoding":{"x":{"field":"x","type":"quantitative","scale":{"domain":[11,20]},"axis":null},"y":{"field":"y","type":"quantitative","scale":{"domain":[-1000,-300]},"axis":null}},
"layer":[
{"data":{"name":"velB"},"encoding":{"x":{"field":"a","type":"quantitative","scale":{"domain":[11,20]},"axis":{"orient":"bottom","values":[11,12,13,14,15,16,17,18,19,20],"tickSize":8,"labelFontSize":22,"labelPadding":2,"title":"Latitude(N)","titleFontSize":23,"titlePadding":4}},"x2":{"field":"b"},"y":{"field":"t","type":"quantitative","scale":{"domain":[-1000,-300]},"axis":{"orient":"left","values":[-500,-750,-1000],"tickSize":11,"labels":false,"title":null}},"y2":{"field":"u"},"color":{"field":"v","type":"quantitative","legend":null,"scale":{"domain":[-20,-15,-10,-5,0,5,10,15,20,25,30,35],"range":["#00008c","#0050d8","#0c98a8","#14dc50","#80ff10","#ffff00","#ffd800","#ffa800","#ff6800","#f02000","#d00000","#800000"]}}},
"layer":[{"mark":"rect"},
{"transform":[{"filter":"datum.a>11.5&&datum.a<19.25"}],"mark":{"type":"rect","clip":true,"opacity":0.5,"xOffset":-2.4,"x2Offset":-2.4,"yOffset":8,"y2Offset":8}},
{"transform":[{"filter":"datum.a>11.5&&datum.a<19.25"}],"mark":{"type":"rect","clip":true,"opacity":0.333,"xOffset":2.4,"x2Offset":2.4,"yOffset":-8,"y2Offset":-8}},
{"transform":[{"filter":"datum.a>11.5&&datum.a<19.25"}],"mark":{"type":"rect","clip":true,"opacity":0.25,"xOffset":-4,"x2Offset":-4,"yOffset":16,"y2Offset":16}},
{"transform":[{"filter":"datum.a>11.5&&datum.a<19.25"}],"mark":{"type":"rect","clip":true,"opacity":0.2,"xOffset":4,"x2Offset":4,"yOffset":-16,"y2Offset":-16}},
{"transform":[{"filter":"datum.a>11.5&&datum.a<19.25"}],"mark":{"type":"rect","clip":true,"opacity":0.167,"xOffset":0.8,"x2Offset":0.8,"yOffset":24,"y2Offset":24}}]},
{"data":{"name":"b2t"},"mark":{"type":"line","stroke":"#444","strokeWidth":1,"opacity":0.8,"clip":true},"encoding":{"x":{"field":"x","type":"quantitative","scale":{"domain":[11,20]},"axis":{"orient":"top","values":[11,12,13,14,15,16,17,18,19,20],"labels":false,"tickSize":8,"title":null}},"y":{"field":"y","type":"quantitative","scale":{"domain":[-1000,-300]},"axis":{"orient":"right","values":[-500,-750,-1000],"labels":false,"tickSize":8,"title":null}},"detail":{"field":"c"},"order":{"value":null}}},
{"data":{"name":"b2L"},"mark":{"type":"text","fontSize":20,"fill":"#222"},"encoding":{"text":{"field":"t"},"angle":{"field":"r","type":"quantitative","scale":null}}}
],"resolve":{"axis":{"x":"independent","y":"independent"}}},
{"width":321,"height":160,"encoding":{"x":{"field":"x","type":"quantitative","scale":{"domain":[11,20]},"axis":null},"y":{"field":"y","type":"quantitative","scale":{"domain":[-1000,-300]},"axis":null}},
"layer":[
{"data":{"name":"velB"},"encoding":{"x":{"field":"a","type":"quantitative","scale":{"domain":[11,20]},"axis":{"orient":"bottom","values":[11,12,13,14,15,16,17,18,19,20],"tickSize":8,"labelFontSize":22,"labelPadding":2,"title":"Latitude(N)","titleFontSize":23,"titlePadding":7}},"x2":{"field":"b"},"y":{"field":"t","type":"quantitative","scale":{"domain":[-1000,-300]},"axis":{"orient":"left","values":[-500,-750,-1000],"tickSize":11,"labels":false,"title":null}},"y2":{"field":"u"},"color":{"field":"v","type":"quantitative","legend":null,"scale":{"domain":[-20,-15,-10,-5,0,5,10,15,20,25,30,35],"range":["#00008c","#0050d8","#0c98a8","#14dc50","#80ff10","#ffff00","#ffd800","#ffa800","#ff6800","#f02000","#d00000","#800000"]}}},
"layer":[{"mark":"rect"},
{"transform":[{"filter":"datum.a>11.5&&datum.a<19.25"}],"mark":{"type":"rect","clip":true,"opacity":0.5,"xOffset":-2.4,"x2Offset":-2.4,"yOffset":8,"y2Offset":8}},
{"transform":[{"filter":"datum.a>11.5&&datum.a<19.25"}],"mark":{"type":"rect","clip":true,"opacity":0.333,"xOffset":2.4,"x2Offset":2.4,"yOffset":-8,"y2Offset":-8}},
{"transform":[{"filter":"datum.a>11.5&&datum.a<19.25"}],"mark":{"type":"rect","clip":true,"opacity":0.25,"xOffset":-4,"x2Offset":-4,"yOffset":16,"y2Offset":16}},
{"transform":[{"filter":"datum.a>11.5&&datum.a<19.25"}],"mark":{"type":"rect","clip":true,"opacity":0.2,"xOffset":4,"x2Offset":4,"yOffset":-16,"y2Offset":-16}},
{"transform":[{"filter":"datum.a>11.5&&datum.a<19.25"}],"mark":{"type":"rect","clip":true,"opacity":0.167,"xOffset":0.8,"x2Offset":0.8,"yOffset":24,"y2Offset":24}}]},
{"data":{"name":"c2k"},"mark":{"type":"line","stroke":"#111","strokeWidth":2,"clip":true},"encoding":{"x":{"field":"x","type":"quantitative","scale":{"domain":[11,20]},"axis":{"orient":"top","values":[11,12,13,14,15,16,17,18,19,20],"labels":false,"tickSize":8,"title":null}},"y":{"field":"y","type":"quantitative","scale":{"domain":[-1000,-300]},"axis":{"orient":"right","values":[-500,-750,-1000],"labels":false,"tickSize":8,"title":null}},"detail":{"field":"c"},"order":{"value":null}}},
{"data":{"name":"c2L"},"mark":{"type":"text","fontSize":20,"fill":"#222"},"encoding":{"text":{"field":"t"},"angle":{"field":"r","type":"quantitative","scale":null}}}
],"resolve":{"axis":{"x":"independent","y":"independent"}}},
{"width":321,"height":81,"data":{"name":"none"},"mark":"point","encoding":{}},
{"width":321,"height":81,"data":{"name":"bar"},"layer":[
{"mark":"rect","encoding":{"x":{"field":"x","type":"quantitative","scale":{"domain":[-20,35],"range":[-5.2,317.2]},"axis":{"orient":"bottom","values":[-20,-15,-10,-5,0,5,10,15,20,25,30,35],"domain":false,"ticks":false,"labelFontSize":16,"labelPadding":3,"labelExpr":"''+datum.value","title":"cm/s","titleFontSize":23,"titlePadding":2,"titleX":162}},"x2":{"field":"e"},"y":{"datum":0,"type":"quantitative","scale":{"domain":[0,1]},"axis":null},"y2":{"datum":0.105},"color":{"field":"x","type":"quantitative","legend":null,"scale":{"domain":[-20,-15,-10,-5,0,5,10,15,20,25,30,35],"range":["#00008c","#0050d8","#0c98a8","#14dc50","#80ff10","#ffff00","#ffd800","#ffa800","#ff6800","#f02000","#d00000","#800000"]}}}}
]}
]}
